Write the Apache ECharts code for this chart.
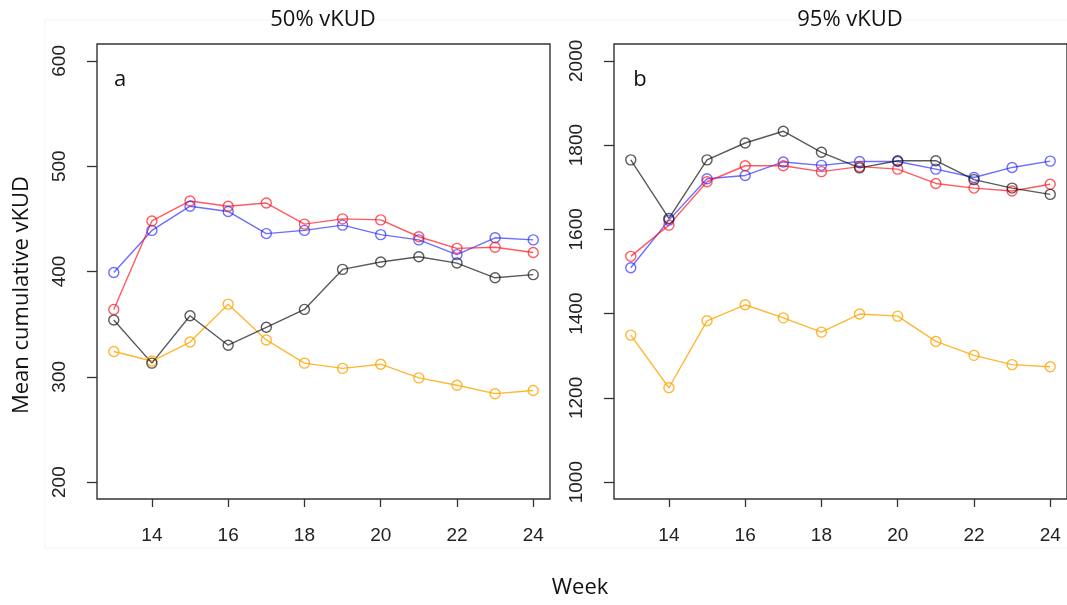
<!DOCTYPE html>
<html>
<head>
<meta charset="utf-8">
<script src="https://cdn.jsdelivr.net/npm/echarts@6/dist/echarts.min.js"></script>
<style>
  html, body { margin: 0; padding: 0; background: #fff; }
  #chart { width: 1067px; height: 605px; }
</style>
</head>
<body>
<div id="chart"></div>
<script>
// Weeks on the x axis and labelled tick positions
const weeks = [13, 14, 15, 16, 17, 18, 19, 20, 21, 22, 23, 24];
const weekTicks = [14, 16, 18, 20, 22, 24];
const ticks50 = [200, 300, 400, 500, 600];
const ticks95 = [1000, 1200, 1400, 1600, 1800, 2000];

// Panel a: 50% vKUD
const red50    = [364, 448, 467, 462, 465, 445, 450, 449, 433, 422, 423, 418];
const blue50   = [399, 439, 462, 457, 436, 439, 444, 435, 430, 416, 432, 430];
const black50  = [354, 313, 358, 330, 347, 364, 402, 409, 414, 408, 394, 397];
const orange50 = [324, 315, 333, 369, 335, 313, 308, 312, 299, 292, 284, 287];

// Panel b: 95% vKUD
const red95    = [1536, 1610, 1713, 1751, 1751, 1737, 1749, 1743, 1709, 1698, 1691, 1707];
const blue95   = [1509, 1622, 1720, 1728, 1760, 1752, 1761, 1761, 1743, 1723, 1747, 1762];
const black95  = [1765, 1626, 1765, 1805, 1833, 1783, 1746, 1763, 1763, 1718, 1698, 1683];
const orange95 = [1349, 1224, 1383, 1421, 1390, 1356, 1399, 1394, 1334, 1301, 1279, 1274];

const COLORS = {
  red: 'rgba(255, 20, 30, 0.7)',
  blue: 'rgba(30, 30, 255, 0.65)',
  black: 'rgba(20, 20, 20, 0.7)',
  orange: 'rgba(255, 165, 0, 0.8)'
};

const tickFont = "'Liberation Sans', Arial, sans-serif";
const textFont = "'Open Sans', sans-serif";

function pairs(vals) { return weeks.map((w, i) => [w, vals[i]]); }

function line(name, vals, color, gi) {
  return {
    name: name,
    type: 'line',
    xAxisIndex: gi,
    yAxisIndex: gi,
    data: pairs(vals),
    symbol: 'circle',
    symbolSize: 10,
    lineStyle: { color: color, width: 1.4 },
    itemStyle: { color: 'rgba(0,0,0,0)', borderColor: color, borderWidth: 1.4 },
    emphasis: { disabled: true },
    animation: false,
    z: 3
  };
}

const plain = v => String(v);

function xAxis(gi) {
  return {
    type: 'value', gridIndex: gi, min: 12.56, max: 24.44,
    axisLine: { show: false },
    splitLine: { show: false },
    axisTick: { show: true, customValues: weekTicks, length: 8, lineStyle: { color: '#333', width: 1.3 } },
    axisLabel: { customValues: weekTicks, formatter: plain, fontSize: 19, color: '#222', fontFamily: tickFont, margin: 27 }
  };
}

function yAxis(gi, min, max, vals) {
  return {
    type: 'value', gridIndex: gi, min: min, max: max,
    axisLine: { show: false },
    splitLine: { show: false },
    axisTick: { show: true, customValues: vals, length: 10, lineStyle: { color: '#333', width: 1.3 } },
    axisLabel: { customValues: vals, formatter: plain, fontSize: 19, color: '#222', fontFamily: tickFont, rotate: 90, margin: 28 }
  };
}

const chart = echarts.init(document.getElementById('chart'), null, { renderer: 'canvas' });
chart.setOption({
  backgroundColor: '#fff',
  animation: false,
  grid: [
    { left: 97, top: 44, width: 453, height: 455, show: true, borderColor: '#333', borderWidth: 1.4, backgroundColor: 'transparent' },
    { left: 614, top: 44, width: 455, height: 455, show: true, borderColor: '#333', borderWidth: 1.4, backgroundColor: 'transparent' }
  ],
  xAxis: [xAxis(0), xAxis(1)],
  yAxis: [yAxis(0, 184, 616, ticks50), yAxis(1, 960, 2040, ticks95)],
  graphic: [
    { type: 'rect', shape: { x: 45, y: 20, width: 1040, height: 528 }, style: { fill: 'none', stroke: '#f3f3f3', lineWidth: 1 }, z: -1, silent: true },
    { type: 'text', x: 323, y: 20, style: { text: '50% vKUD', font: '22px ' + textFont, fill: '#111', align: 'center', verticalAlign: 'middle' } },
    { type: 'text', x: 850, y: 20, style: { text: '95% vKUD', font: '22px ' + textFont, fill: '#111', align: 'center', verticalAlign: 'middle' } },
    { type: 'text', x: 120, y: 80, style: { text: 'a', font: '22px ' + textFont, fill: '#111', align: 'center', verticalAlign: 'middle' } },
    { type: 'text', x: 640, y: 80, style: { text: 'b', font: '22px ' + textFont, fill: '#111', align: 'center', verticalAlign: 'middle' } },
    { type: 'text', x: 22, y: 295, rotation: Math.PI / 2, style: { text: 'Mean cumulative vKUD', font: '22px ' + textFont, fill: '#111', align: 'center', verticalAlign: 'middle' } },
    { type: 'text', x: 580, y: 588, style: { text: 'Week', font: '22px ' + textFont, fill: '#111', align: 'center', verticalAlign: 'middle' } }
  ],
  series: [
    line('orange', orange50, COLORS.orange, 0),
    line('black', black50, COLORS.black, 0),
    line('blue', blue50, COLORS.blue, 0),
    line('red', red50, COLORS.red, 0),
    line('orange', orange95, COLORS.orange, 1),
    line('blue', blue95, COLORS.blue, 1),
    line('red', red95, COLORS.red, 1),
    line('black', black95, COLORS.black, 1)
  ]
});
</script>
</body>
</html>
